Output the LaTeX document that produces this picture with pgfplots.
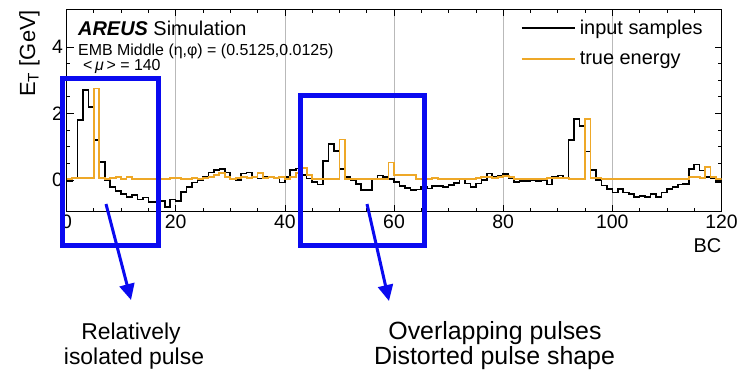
\documentclass[border=0pt]{standalone}
\usepackage{pgfplots}
\pgfplotsset{compat=1.18}
\usepackage{pgfplotstable}
\usepackage{fontspec}
\setmainfont{Liberation Sans}
\usetikzlibrary{arrows.meta}
\definecolor{truecol}{RGB}{238,168,40}
\definecolor{boxblue}{RGB}{10,10,240}
\definecolor{gridgray}{RGB}{185,185,185}

\pgfplotstableread{
bc input truth
0 -0.03 0.03
1 0.08 0.05
2 1.80 0.05
3 2.70 0.05
4 2.20 0.05
5 1.20 2.75
6 0.54 0.05
7 0.00 0.03
8 -0.20 0.06
9 -0.32 0.09
10 -0.42 0.04
11 -0.50 0.10
12 -0.45 0.04
13 -0.58 0.03
14 -0.52 0.03
15 -0.65 0.03
16 -0.65 0.03
17 -0.62 0.03
18 -0.80 0.03
19 -0.58 0.05
20 -0.62 0.05
21 -0.35 0.03
22 -0.20 0.03
23 -0.07 0.05
24 0.00 0.04
25 0.10 0.06
26 0.23 0.10
27 0.30 0.15
28 0.33 0.20
29 0.23 0.08
30 0.04 0.03
31 0.00 0.05
32 0.20 0.10
33 0.23 0.06
34 0.10 0.08
35 0.05 0.20
36 0.10 0.06
37 0.10 0.10
38 0.05 0.05
39 -0.07 0.08
40 0.10 0.03
41 0.30 0.10
42 0.35 0.20
43 0.15 0.35
44 0.05 0.15
45 -0.05 0.04
46 -0.13 0.03
47 0.58 0.03
48 1.09 0.03
49 0.88 0.03
50 0.34 1.22
51 0.09 0.04
52 -0.01 0.03
53 -0.11 0.03
54 -0.30 0.03
55 -0.30 0.03
56 0.04 0.04
57 0.14 0.04
58 0.09 0.04
59 0.04 0.53
60 -0.06 0.14
61 -0.17 0.14
62 -0.24 0.14
63 -0.30 0.14
64 -0.28 0.04
65 -0.20 0.04
66 -0.25 0.04
67 -0.17 0.06
68 -0.18 0.04
69 -0.20 0.04
70 -0.15 0.04
71 -0.08 0.04
72 0.04 0.04
73 -0.10 0.04
74 -0.20 0.04
75 -0.10 0.06
76 0.00 0.08
77 0.20 0.08
78 0.09 0.06
79 0.14 0.08
80 0.19 0.12
81 0.06 0.08
82 -0.05 0.04
83 -0.02 0.04
84 -0.02 0.04
85 0.00 0.04
86 -0.02 0.04
87 0.00 0.04
88 -0.13 0.06
89 0.10 0.06
90 0.14 0.06
91 0.07 0.05
92 1.20 0.04
93 1.84 0.04
94 1.62 0.04
95 0.86 1.84
96 0.30 0.06
97 0.00 0.05
98 -0.16 0.04
99 -0.26 0.04
100 -0.37 0.04
101 -0.26 0.04
102 -0.37 0.04
103 -0.42 0.04
104 -0.50 0.04
105 -0.47 0.04
106 -0.50 0.04
107 -0.42 0.04
108 -0.50 0.04
109 -0.37 0.04
110 -0.26 0.04
111 -0.20 0.04
112 -0.13 0.04
113 -0.11 0.04
114 0.34 0.10
115 0.47 0.10
116 0.29 0.05
117 0.09 0.40
118 0.07 0.10
119 -0.06 0.03
120 -0.06 0.03
}\datatable

\begin{document}
\begin{tikzpicture}
\useasboundingbox (0,0) rectangle (751bp,-374bp);
\begin{axis}[
  at={(66.5bp,-211.7bp)}, anchor=south west,
  scale only axis, width=655bp, height=202.2bp,
  xmin=0, xmax=120, ymin=-0.95, ymax=5.12,
  xtick={0,20,...,120}, ytick={0,2,4},
  minor x tick num=3, minor y tick num=3,
  tick align=inside, xtick pos=both, ytick pos=both,
  xticklabel pos=bottom, yticklabel pos=left,
  major tick length=7bp, minor tick length=3.5bp,
  every tick/.append style={black, line width=0.6bp},
  xmajorgrids, major grid style={gridgray, line width=0.6bp},
  axis line style={black, line width=0.8bp},
  ticklabel style={font=\fontsize{19.5}{20}\selectfont},
  /pgf/number format/assume math mode=true,
  xlabel={BC},
  xlabel style={at={(axis description cs:1,-0.131)}, anchor=north east, inner sep=0pt, font=\fontsize{20}{22}\selectfont},
  ylabel={E\textsubscript{T} [GeV]},
  ylabel style={at={(axis description cs:-0.0405,0.998)}, anchor=south east, inner sep=0pt, font=\fontsize{22}{24}\selectfont},
  legend style={at={(rel axis cs:0.689,0.978)}, anchor=north west, draw=none, fill=none,
    font=\fontsize{20}{24}\selectfont, nodes={inner sep=4bp}, row sep=8bp},
  legend cell align=left,
  legend image code/.code={\draw[#1] (0bp,0bp) -- (40bp,0bp); \path (0bp,0bp) -- (53bp,0bp);},
]
\addplot[const plot mark left, black, line width=1.6bp] table[x=bc, y=input] {\datatable};
\addlegendentry{input samples}
\addplot[const plot mark left, truecol, line width=1.8bp] table[x=bc, y=truth] {\datatable};
\addlegendentry{true energy}
\end{axis}
\node[anchor=base west, inner sep=0pt, font=\fontsize{20}{22}\selectfont] at (78bp,-35bp) {\textbf{\textit{AREUS}} Simulation};
\node[anchor=base west, inner sep=0pt, font=\fontsize{16}{18}\selectfont] at (78bp,-55bp) {EMB Middle (η,φ) = (0.5125,0.0125)};
\node[anchor=base west, inner sep=0pt, font=\fontsize{16}{18}\selectfont] at (83bp,-70bp) {<\,\textit{μ}\,> = 140};
\draw[boxblue, line width=5bp] (62bp,-78bp) rectangle (158.8bp,-245.5bp);
\draw[boxblue, line width=5bp] (300.8bp,-95.8bp) rectangle (424.5bp,-245bp);
\draw[boxblue, line width=3bp, -{Triangle[length=16bp,width=15bp]}] (106bp,-204bp) -- (131bp,-300bp);
\draw[boxblue, line width=3bp, -{Triangle[length=16bp,width=15bp]}] (367bp,-204bp) -- (389bp,-301bp);
\node[anchor=base, inner sep=0pt, font=\fontsize{23}{26}\selectfont] at (131bp,-339bp) {Relatively};
\node[anchor=base, inner sep=0pt, font=\fontsize{23}{26}\selectfont] at (134bp,-364bp) {isolated pulse};
\node[anchor=base, inner sep=0pt, font=\fontsize{25}{28}\selectfont] at (495bp,-339bp) {Overlapping pulses};
\node[anchor=base, inner sep=0pt, font=\fontsize{25}{28}\selectfont] at (494.5bp,-364bp) {Distorted pulse shape};
\end{tikzpicture}
\end{document}
